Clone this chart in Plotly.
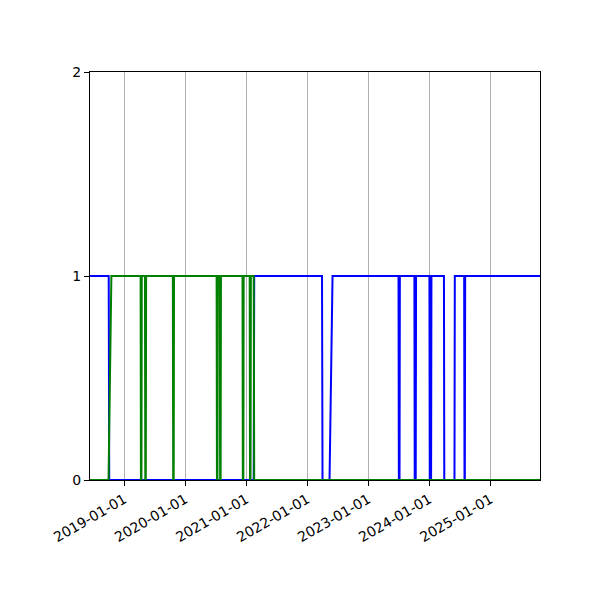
import plotly.graph_objects as go

# serie azul
datas_azul = ["2018-06-10", "2018-09-30", "2018-10-03",
              "2021-02-14", "2021-02-17",
              "2022-03-30", "2022-04-02",
              "2022-05-14", "2022-06-01",
              "2023-07-01", "2023-07-03", "2023-07-07", "2023-07-09",
              "2023-10-04", "2023-10-06", "2023-10-12", "2023-10-14",
              "2024-01-02", "2024-01-04", "2024-01-12", "2024-01-14",
              "2024-03-29", "2024-03-31",
              "2024-05-31", "2024-06-02",
              "2024-07-28", "2024-07-30", "2024-08-01", "2024-08-03",
              "2025-10-25"]
valores_azul = [1, 1, 0,
                0, 1,
                1, 0,
                0, 1,
                1, 0, 0, 1,
                1, 0, 0, 1,
                1, 0, 0, 1,
                1, 0,
                0, 1,
                1, 0, 0, 1,
                1]

# serie verde
datas_verde = ["2018-06-10", "2018-09-29", "2018-10-16",
               "2019-04-09", "2019-04-11", "2019-04-14", "2019-04-16",
               "2019-05-05", "2019-05-07", "2019-05-10", "2019-05-12",
               "2019-10-19", "2019-10-21", "2019-10-24", "2019-10-26",
               "2020-07-07", "2020-07-09", "2020-07-12", "2020-07-14",
               "2020-07-26", "2020-07-28", "2020-07-31", "2020-08-02",
               "2020-12-09", "2020-12-11", "2020-12-14", "2020-12-16",
               "2021-01-21", "2021-01-23", "2021-01-26", "2021-01-28",
               "2021-02-14", "2021-02-17",
               "2025-10-25"]
valores_verde = [0, 0, 1,
                 1, 0, 0, 1,
                 1, 0, 0, 1,
                 1, 0, 0, 1,
                 1, 0, 0, 1,
                 1, 0, 0, 1,
                 1, 0, 0, 1,
                 1, 0, 0, 1,
                 1, 0,
                 0]

y_ticks = [0, 1, 2]
x_inicio = "2018-06-10"
x_fim = "2025-10-25"

fig = go.Figure()

fig.add_trace(go.Scatter(x=datas_azul, y=valores_azul, mode='lines',
                         line=dict(color='blue', width=2), showlegend=False))
fig.add_trace(go.Scatter(x=datas_verde, y=valores_verde, mode='lines',
                         line=dict(color='green', width=2), showlegend=False))

# a pagina tem 8px de margem no body, por isso l/t menores
fig.update_layout(width=600, height=600,
                  margin=dict(l=82, r=68, t=64, b=128, autoexpand=False),
                  plot_bgcolor='white', paper_bgcolor='white',
                  font=dict(family="DejaVu Sans", size=14, color='black'))

fig.update_xaxes(range=[x_inicio, x_fim], type='date',
                 tick0="2019-01-01", dtick="M12", tickformat="%Y-%m-%d",
                 tickangle=-30, ticks='outside', ticklen=5, tickcolor='black',
                 showgrid=True, gridcolor='#b0b0b0', gridwidth=1,
                 showline=True, linecolor='black', linewidth=1, mirror=True,
                 zeroline=False)
fig.update_yaxes(range=[0, 2], tickvals=y_ticks, ticks='outside', ticklen=5,
                 tickcolor='black', showgrid=False,
                 showline=True, linecolor='black', linewidth=1, mirror=True,
                 zeroline=False)

fig.write_html("out.html")
